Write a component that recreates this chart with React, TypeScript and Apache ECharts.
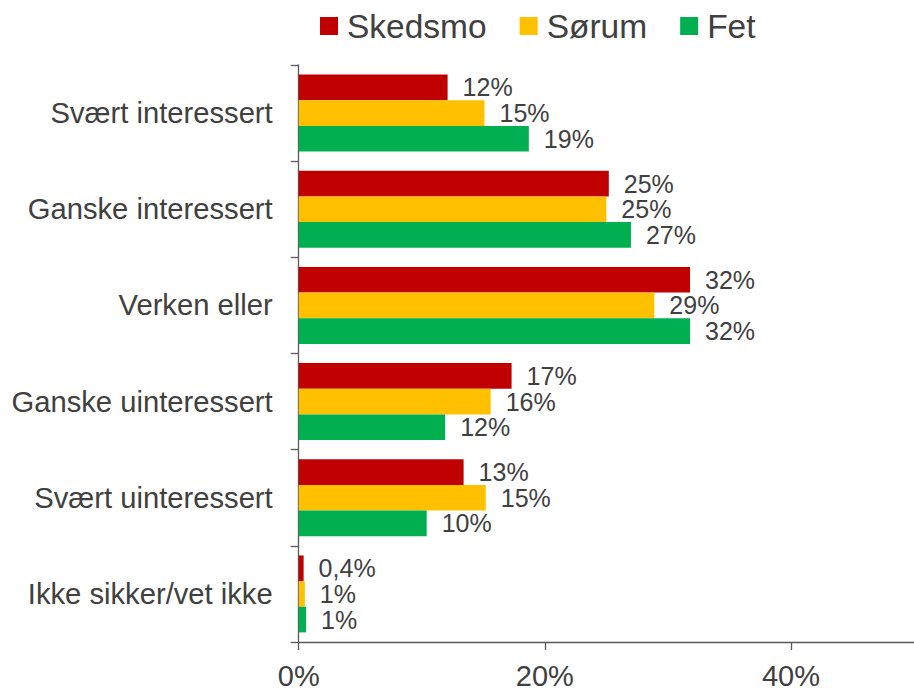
import React, { useEffect, useRef } from "react";
import * as echarts from "echarts";

const categories = [
  "Svært interessert",
  "Ganske interessert",
  "Verken eller",
  "Ganske uinteressert",
  "Svært uinteressert",
  "Ikke sikker/vet ikke",
];
const seriesNames = ["Skedsmo", "Sørum", "Fet"];
const skedsmo = [12.1, 25.2, 31.8, 17.3, 13.4, 0.4];
const sorum = [15.1, 25.0, 28.9, 15.6, 15.2, 0.5];
const fet = [18.7, 27.0, 31.8, 11.9, 10.4, 0.6];
const colors = ["#C00000", "#FFC000", "#00B050"];
const xTicks = [0, 20, 40];

const FONT = "'Liberation Sans', Arial, sans-serif";
const TEXT = "#404040";

function fmt(v: number): string {
  if (v < 0.5) return v.toFixed(1).replace(".", ",") + "%";
  return Math.round(v) + "%";
}

export default function App() {
  const ref = useRef<HTMLDivElement>(null);
  useEffect(() => {
    if (!ref.current) return;
    const chart = echarts.init(ref.current, null, { renderer: "svg" });
    const data = [skedsmo, sorum, fet];
    chart.setOption({
      animation: false,
      textStyle: { fontFamily: FONT },
      legend: {
        data: seriesNames,
        left: 320,
        top: 9,
        padding: 0,
        icon: "rect",
        itemWidth: 18,
        itemHeight: 18,
        itemGap: 33,
        textStyle: { fontSize: 33.5, color: TEXT, fontFamily: FONT, padding: [0, 0, 0, 4] },
      },
      grid: { left: 298.7, top: 65, bottom: 48, right: -5.7, containLabel: false },
      xAxis: {
        type: "value",
        min: 0,
        max: 50,
        interval: xTicks[1] - xTicks[0],
        splitLine: { show: false },
        axisLine: { show: true, lineStyle: { color: "#595959", width: 1.3 } },
        axisTick: { show: true, length: 8, lineStyle: { color: "#595959", width: 1.3 } },
        axisLabel: {
          fontSize: 29,
          color: TEXT,
          fontFamily: FONT,
          margin: 19,
          showMaxLabel: false,
          formatter: (v: number) => (xTicks.includes(v) ? v + "%" : ""),
        },
      },
      yAxis: {
        type: "category",
        data: categories,
        inverse: true,
        axisLine: { show: true, lineStyle: { color: "#595959", width: 1.3 } },
        axisTick: { show: true, length: 8, lineStyle: { color: "#595959", width: 1.3 } },
        axisLabel: { fontSize: 29.2, color: TEXT, fontFamily: FONT, margin: 26 },
      },
      series: seriesNames.map((name, i) => ({
        name,
        type: "bar",
        data: data[i],
        barGap: "0%",
        barCategoryGap: "20%",
        itemStyle: { color: colors[i] },
        label: {
          show: true,
          position: "right",
          distance: 15,
          fontSize: 25,
          lineHeight: 24,
          color: TEXT,
          fontFamily: FONT,
          formatter: (p: any) => fmt(p.value),
        },
      })),
    });
    return () => chart.dispose();
  }, []);
  return <div ref={ref} style={{ width: 914, height: 690, position: "absolute", left: 0, top: 0 }} />;
}
